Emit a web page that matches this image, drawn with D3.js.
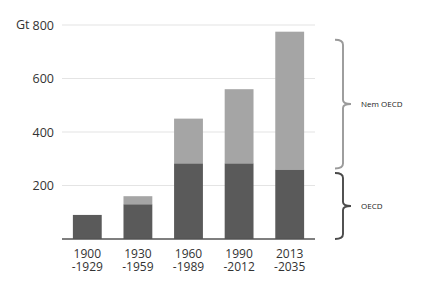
<!DOCTYPE html>
<html>
<head>
<meta charset="utf-8">
<script src="https://cdn.jsdelivr.net/npm/d3@7"></script>
<style>
  body { margin: 0; background: #fff; }
  text { font-family: "Open Sans", "Noto Sans", sans-serif; }
</style>
</head>
<body>
<svg id="chart" width="436" height="289"></svg>
<script>
// data
const periods = ["1900\n-1929", "1930\n-1959", "1960\n-1989", "1990\n-2012", "2013\n-2035"];
const oecd = [90, 130, 283, 283, 260];
const nonOecd = [0, 30, 167, 277, 515];
const yTicks = [200, 400, 600, 800];

const svg = d3.select("#chart");

let x = d3.scaleBand()
	.domain(periods)
	.range([62, 315])
	.paddingInner(0.43)
	.paddingOuter(0.215);

let y = d3.scaleLinear()
	.domain([0, 800])
	.range([239, 25]);

// gridlines
svg.append("g")
	.selectAll("line")
	.data(yTicks)
	.join("line")
	.attr("x1", 62)
	.attr("x2", 315)
	.attr("y1", d => y(d))
	.attr("y2", d => y(d))
	.attr("stroke", "#e4e4e4")
	.attr("stroke-width", 1.2);

// y axis labels
let yAxis = svg.append("g")
	.attr("transform", "translate(62,0)")
	.call(d3.axisLeft(y).tickValues(yTicks).tickSize(0).tickPadding(8));
yAxis.select(".domain").remove();
yAxis.selectAll("text")
	.attr("font-size", 12.5)
	.attr("font-family", "Open Sans, Noto Sans, sans-serif")
	.attr("fill", "#333");

svg.append("text")
	.attr("x", 16)
	.attr("y", y(800))
	.attr("dy", "0.35em")
	.attr("font-size", 12.5)
	.attr("fill", "#333")
	.text("Gt");

// stacked bars
const stacked = periods.map((p, i) => ({ p: p, o: oecd[i], n: nonOecd[i] }));

svg.append("g")
	.selectAll("rect")
	.data(stacked)
	.join("rect")
	.attr("x", d => x(d.p))
	.attr("width", x.bandwidth())
	.attr("y", d => y(d.o))
	.attr("height", d => y(0) - y(d.o))
	.attr("fill", "#5a5a5a");

svg.append("g")
	.selectAll("rect")
	.data(stacked.filter(d => d.n > 0))
	.join("rect")
	.attr("x", d => x(d.p))
	.attr("width", x.bandwidth())
	.attr("y", d => y(d.o + d.n))
	.attr("height", d => y(d.o) - y(d.o + d.n))
	.attr("fill", "#a5a5a5");

// baseline
svg.append("line")
	.attr("x1", 62)
	.attr("x2", 315)
	.attr("y1", y(0))
	.attr("y2", y(0))
	.attr("stroke", "#555")
	.attr("stroke-width", 1.5);

// x labels
let xl = svg.append("g")
	.selectAll("text")
	.data(periods)
	.join("text")
	.attr("x", d => x(d) + x.bandwidth() / 2)
	.attr("y", 258)
	.attr("text-anchor", "middle")
	.attr("font-size", 12)
	.attr("fill", "#333");
xl.each(function (d) {
	d3.select(this).selectAll("tspan")
		.data(d.split("\n"))
		.join("tspan")
		.attr("x", x(d) + x.bandwidth() / 2)
		.attr("dy", (t, i) => i === 0 ? 0 : 12.5)
		.text(t => t);
});

// braces for the last bar
function brace(top, bottom, color) {
	const x0 = 335, x1 = 343, x2 = 351, mid = (top + bottom) / 2;
	const p = d3.path();
	p.moveTo(x0, top);
	p.quadraticCurveTo(x1, top, x1, top + 5);
	p.lineTo(x1, mid - 4);
	p.quadraticCurveTo(x1, mid, x2, mid);
	p.quadraticCurveTo(x1, mid, x1, mid + 4);
	p.lineTo(x1, bottom - 5);
	p.quadraticCurveTo(x1, bottom, x0, bottom);
	svg.append("path")
		.attr("d", p.toString())
		.attr("fill", "none")
		.attr("stroke", color)
		.attr("stroke-width", 1.9);
	return mid;
}

const last = stacked[stacked.length - 1];
let m1 = brace(y(last.o + last.n) + 8, y(last.o) - 1, "#9a9a9a");
let m2 = brace(y(last.o) + 3.5, y(0), "#4a4a4a");

svg.append("text")
	.attr("x", 361).attr("y", m1).attr("dy", "0.35em")
	.attr("font-family", "DejaVu Sans, sans-serif")
	.attr("font-size", 8).attr("fill", "#222")
	.text("Nem OECD");
svg.append("text")
	.attr("x", 361).attr("y", m2).attr("dy", "0.35em")
	.attr("font-family", "DejaVu Sans, sans-serif")
	.attr("font-size", 8).attr("fill", "#222")
	.text("OECD");
</script>
</body>
</html>
